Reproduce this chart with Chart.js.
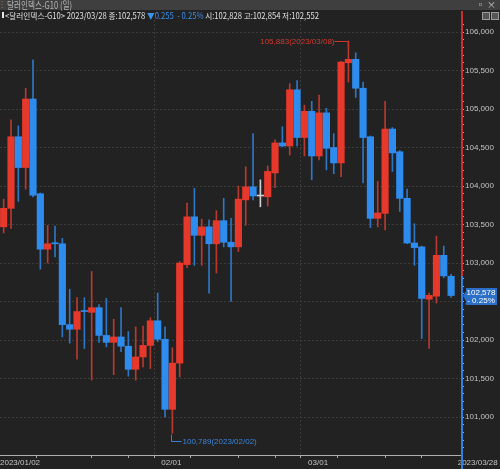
<!DOCTYPE html>
<html>
<head>
<meta charset="utf-8">
<script src="https://cdn.jsdelivr.net/npm/chart.js@4.4.0/dist/chart.umd.min.js"></script>
<style>
  body { margin: 0; background: #222222; width: 500px; height: 469px; overflow: hidden; position: relative;
         font-family: "Noto Sans CJK KR", "Noto Sans", sans-serif; }
  #titlebar { position: absolute; left: 0; top: 0; width: 500px; height: 10px; background: #3f3f3f; z-index: 2; }
  #titlebar .txt { position: absolute; left: 7px; top: -1px; font-size: 10px; line-height: 11px; color: #b4b4b4;
                   transform: scaleX(0.76); transform-origin: left; white-space: nowrap; }
  #titlebar .grip { position: absolute; left: 1px; top: 0; font-size: 8px; line-height: 10px; color: #888; }
  #titlebar .btns { position: absolute; right: 4px; top: -1px; font-size: 9px; line-height: 11px; color: #cfcfcf; }
  #info { position: absolute; left: 0; top: 10px; width: 500px; height: 10px; z-index: 2; }
  #info .txt { position: absolute; left: 5px; top: 0; font-size: 8.5px; line-height: 10px; color: #e0e0e0;
               transform: scaleX(0.9); transform-origin: left; white-space: nowrap; }
  #info .mark { position: absolute; left: 2px; top: 2px; width: 2px; height: 6px; background: #e8e8e8; }
  #info .blue { color: #3d8fe8; }
  #info .ico { position: absolute; top: 2px; width: 6px; height: 6px; border: 1px solid #9a9a9a; background: #555; }
  #wrap { position: absolute; left: 0; top: 10px; width: 500px; height: 459px; }
</style>
</head>
<body>
<div id="titlebar">
  <span class="grip">⁝</span>
  <span class="txt">달러인덱스-G10 (일)</span>
  <span class="btns">▫ ×</span>
</div>
<div id="info">
  <div class="mark"></div>
  <span class="txt">&lt;달러인덱스-G10&gt; 2023/03/28 종:102,578 <span class="blue">▼0.255&nbsp; - 0.25%</span> 시:102,828 고:102,854 저:102,552</span>
  <div class="ico" style="left:482px"></div>
  <div class="ico" style="left:491px"></div>
</div>
<div id="wrap"><canvas id="chart" width="500" height="459"></canvas></div>

<script>
// daily candles, 2023/01/02 - 2023/03/28
const dates = [
  '2023/01/02', '2023/01/03', '2023/01/04', '2023/01/05', '2023/01/06',
  '2023/01/09', '2023/01/10', '2023/01/11', '2023/01/12', '2023/01/13',
  '2023/01/16', '2023/01/17', '2023/01/18', '2023/01/19', '2023/01/20',
  '2023/01/23', '2023/01/24', '2023/01/25', '2023/01/26', '2023/01/27',
  '2023/01/30', '2023/01/31',
  '2023/02/01', '2023/02/02', '2023/02/03',
  '2023/02/06', '2023/02/07', '2023/02/08', '2023/02/09', '2023/02/10',
  '2023/02/13', '2023/02/14', '2023/02/15', '2023/02/16', '2023/02/17',
  '2023/02/20', '2023/02/21', '2023/02/22', '2023/02/23', '2023/02/24',
  '2023/02/27', '2023/02/28',
  '2023/03/01', '2023/03/02', '2023/03/03',
  '2023/03/06', '2023/03/07', '2023/03/08', '2023/03/09', '2023/03/10',
  '2023/03/13', '2023/03/14', '2023/03/15', '2023/03/16', '2023/03/17',
  '2023/03/20', '2023/03/21', '2023/03/22', '2023/03/23', '2023/03/24',
  '2023/03/27', '2023/03/28'
];

const openVals = [
  103.47, 103.71, 104.64, 104.24, 105.13, 103.90, 103.18, 103.26, 103.25, 102.20,
  102.14, 102.38, 102.36, 102.42, 102.06, 101.97, 102.04, 101.92, 101.62, 101.78,
  101.93, 102.25, 102.01, 101.10, 101.70, 102.98, 103.60, 103.36, 103.47, 103.25,
  103.55, 103.27, 103.21, 103.82, 103.99, 103.87, 103.86, 104.17, 104.56, 104.52,
  105.25, 104.63, 104.97, 104.39, 104.95, 104.50, 104.30, 105.60, 105.645, 105.27,
  104.64, 103.58, 103.645, 104.74, 104.445, 103.84, 103.26, 103.21, 102.53, 102.57,
  103.10, 102.828
];
const highVals = [
  103.83, 104.86, 104.78, 105.27, 105.64, 103.91, 103.49, 103.48, 103.32, 102.66,
  102.55, 102.55, 102.89, 102.46, 102.54, 102.27, 102.42, 102.11, 102.17, 102.18,
  102.29, 102.61, 102.17, 101.90, 103.02, 103.78, 103.97, 103.57, 103.56, 103.68,
  103.84, 103.58, 104.00, 104.25, 104.68, 104.08, 104.26, 104.60, 104.77, 105.33,
  105.37, 105.05, 105.10, 105.18, 105.01, 104.68, 105.62, 105.883, 105.73, 105.35,
  104.65, 104.06, 105.10, 104.76, 104.46, 103.96, 103.51, 103.22, 102.61, 103.35,
  103.22, 102.854
];
const lowVals = [
  103.39, 103.45, 103.80, 103.96, 103.86, 102.92, 103.00, 103.08, 102.04, 101.96,
  101.75, 101.89, 101.48, 101.97, 101.91, 101.55, 101.85, 101.53, 101.48, 101.65,
  101.63, 101.98, 101.00, 100.789, 101.52, 102.94, 102.97, 102.97, 102.61, 102.87,
  103.21, 102.50, 103.15, 103.49, 103.82, 103.73, 103.74, 103.98, 104.51, 104.40,
  104.52, 104.39, 104.08, 104.34, 104.21, 104.16, 104.12, 105.35, 105.15, 104.04,
  103.46, 103.47, 103.43, 104.19, 103.67, 103.25, 102.97, 102.02, 101.89, 102.48,
  102.81, 102.552
];
const closeVals = [
  103.71, 104.64, 104.24, 105.13, 103.88, 103.18, 103.25, 103.25, 102.20, 102.14,
  102.37, 102.37, 102.42, 102.06, 101.97, 102.04, 101.92, 101.62, 101.78, 101.93,
  102.25, 102.01, 101.10, 101.70, 103.00, 103.60, 103.36, 103.47, 103.25, 103.55,
  103.27, 103.21, 103.83, 103.99, 103.87, 103.87, 104.19, 104.56, 104.52, 105.25,
  104.63, 104.97, 104.39, 104.95, 104.49, 104.30, 105.61, 105.645, 105.27, 104.63,
  103.58, 103.65, 104.74, 104.43, 103.84, 103.26, 103.20, 102.54, 102.58, 103.10,
  102.833, 102.578
];
const prevClose = 102.833;
const changePct = '- 0.25%';

// x axis: boundaries between candles (month labels + weekly marks)
const monthTickPos = [-0.5, 21.5, 41.5, 61.9];
const monthTickLabels = ['2023/01/02', '02/01', '03/01', '2023/03/28'];
const weekTickPos = [9.5, 14.5, 19.5, 29.5, 34.5, 39.5, 49.5, 54.5, 59.5];

const UP = '#e6392b';
const DOWN = '#2f8cef';
const FLAT = '#d0d0d0';
const UP_WICK = '#b8392e';
const DOWN_WICK = '#2f76c4';

const candleColor = (i, up, down) => {
  if (closeVals[i] > openVals[i]) return up;
  if (closeVals[i] < openVals[i]) return down;
  return FLAT;
};

const fmt = (v) => v.toFixed(3).replace('.', ',');
const isMajor = (v) => Math.abs(v * 2 - Math.round(v * 2)) < 1e-6;

const bodyData = dates.map((d, i) => ({ x: i, y: [openVals[i], closeVals[i]] }));
const wickData = dates.map((d, i) => ({ x: i, y: [lowVals[i], highVals[i]] }));

// right edge line, last price box, high / low notes
const overlayPlugin = {
  id: 'overlay',
  afterDraw(chart) {
    const { ctx, chartArea, scales } = chart;
    const x = scales.x, y = scales.y;
    const edge = Math.round(chartArea.right) + 1;
    const yPrev = y.getPixelForValue(prevClose);

    ctx.save();
    ctx.lineWidth = 2;
    ctx.strokeStyle = '#c8302a';
    ctx.beginPath(); ctx.moveTo(edge, 1); ctx.lineTo(edge, yPrev); ctx.stroke();
    ctx.strokeStyle = '#2f7fe0';
    ctx.beginPath(); ctx.moveTo(edge, yPrev); ctx.lineTo(edge, chart.height); ctx.stroke();

    // last price box
    const last = closeVals.length - 1;
    const py = Math.round(y.getPixelForValue(closeVals[last]));
    ctx.fillStyle = '#2c6fc8';
    ctx.beginPath();
    ctx.moveTo(edge + 1, py);
    ctx.lineTo(edge + 4, py - 5);
    ctx.lineTo(edge + 4, py - 8);
    ctx.lineTo(497, py - 8);
    ctx.lineTo(497, py + 9);
    ctx.lineTo(edge + 4, py + 9);
    ctx.lineTo(edge + 4, py + 5);
    ctx.closePath();
    ctx.fill();
    ctx.fillStyle = '#ffffff';
    ctx.font = '8px "Liberation Sans", Arial, sans-serif';
    ctx.textAlign = 'center';
    ctx.textBaseline = 'middle';
    ctx.fillText(fmt(closeVals[last]), 481, py - 3);
    ctx.fillText(changePct, 481, py + 5);

    // highest high
    let iHi = 0, iLo = 0;
    highVals.forEach((v, i) => { if (v > highVals[iHi]) iHi = i; });
    lowVals.forEach((v, i) => { if (v < lowVals[iLo]) iLo = i; });

    const hx = Math.round(x.getPixelForValue(iHi)) + 0.5;
    const hy = Math.round(y.getPixelForValue(highVals[iHi])) + 0.5;
    ctx.strokeStyle = '#c8352b';
    ctx.lineWidth = 1;
    ctx.beginPath(); ctx.moveTo(hx - 14, hy); ctx.lineTo(hx, hy); ctx.lineTo(hx, hy + 5); ctx.stroke();
    ctx.fillStyle = '#d23a2f';
    ctx.textAlign = 'right';
    ctx.font = '8px "Liberation Sans", Arial, sans-serif';
    ctx.fillText(fmt(highVals[iHi]) + '(' + dates[iHi] + ')', hx - 14, hy);

    // lowest low
    const lx = Math.round(x.getPixelForValue(iLo)) - 0.5;
    const ly = Math.round(y.getPixelForValue(lowVals[iLo])) + 0.5;
    ctx.strokeStyle = '#3a7fd6';
    ctx.beginPath(); ctx.moveTo(lx, ly + 1); ctx.lineTo(lx, ly + 8); ctx.lineTo(lx + 10, ly + 8); ctx.stroke();
    ctx.fillStyle = '#3a85dc';
    ctx.textAlign = 'left';
    ctx.fillText(fmt(lowVals[iLo]) + '(' + dates[iLo] + ')', lx + 11, ly + 8);
    ctx.restore();
  }
};

Chart.defaults.font.family = '"Liberation Sans", Arial, sans-serif';

new Chart(document.getElementById('chart'), {
  type: 'bar',
  data: {
    datasets: [
      {
        label: 'body',
        data: bodyData,
        backgroundColor: (ctx) => candleColor(ctx.dataIndex, UP, DOWN),
        barThickness: 6.5,
        minBarLength: 1,
        borderWidth: 0,
        grouped: false,
      },
      {
        label: 'wick',
        data: wickData,
        backgroundColor: (ctx) => candleColor(ctx.dataIndex, UP_WICK, DOWN_WICK),
        barThickness: 1,
        borderWidth: 0,
        grouped: false,
      },
    ],
  },
  options: {
    responsive: false,
    animation: false,
    layout: { padding: { top: 10, left: 0, right: 0, bottom: 0 } },
    plugins: { legend: { display: false }, tooltip: { enabled: false } },
    scales: {
      x: {
        type: 'linear',
        min: -0.5,
        max: 62.35,
        offset: false,
        afterBuildTicks: (scale) => {
          scale.ticks = monthTickPos.concat(weekTickPos).sort((a, b) => a - b).map((v) => ({ value: v }));
        },
        afterFit: (scale) => { scale.height = 14; },
        grid: {
          color: (ctx) => (ctx.tick && (ctx.tick.value === 21.5 || ctx.tick.value === 41.5)) ? '#3c3c3c' : 'transparent',
          tickColor: (ctx) => (ctx.tick && ctx.tick.value === monthTickPos[monthTickPos.length - 1]) ? 'transparent' : '#a8a8a8',
          tickLength: 3,
        },
        border: { color: '#b0b0b0', width: 1, dash: [2, 2] },
        ticks: {
          autoSkip: false,
          maxRotation: 0,
          align: 'start',
          padding: 0,
          color: '#c4c4c4',
          font: { size: 8 },
          callback: (v) => {
            const k = monthTickPos.indexOf(v);
            return k >= 0 ? monthTickLabels[k] : '';
          },
        },
      },
      y: {
        position: 'right',
        min: 100.507,
        max: 106.156,
        afterFit: (scale) => { scale.width = 39; },
        grid: {
          color: (ctx) => (ctx.tick && isMajor(ctx.tick.value)) ? '#3c3c3c' : 'transparent',
          tickColor: '#a8a8a8',
          tickLength: 3,
        },
        border: { display: false, dash: [2, 2] },
        ticks: {
          stepSize: 0.1,
          includeBounds: false,
          autoSkip: false,
          padding: 1,
          color: '#c4c4c4',
          font: { size: 8 },
          callback: (v) => isMajor(v) ? fmt(v) : '',
        },
      },
    },
  },
  plugins: [overlayPlugin],
});
</script>
</body>
</html>
